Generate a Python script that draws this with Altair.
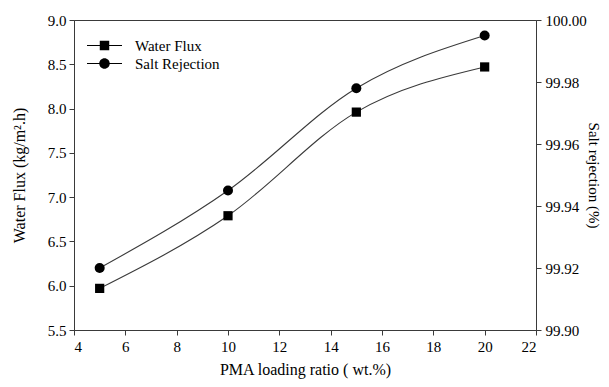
import altair as alt
import pandas as pd

# data
loading = [5, 10, 15, 20]
water_flux = [5.97, 6.79, 7.96, 8.47]
salt_rejection = [99.920, 99.945, 99.978, 99.995]
x_ticks = [4, 6, 8, 10, 12, 14, 16, 18, 20, 22]
left_ticks = [5.5, 6.0, 6.5, 7.0, 7.5, 8.0, 8.5, 9.0]
right_ticks = [99.90, 99.92, 99.94, 99.96, 99.98, 100.00]

df_flux = pd.DataFrame({"x": loading, "y": water_flux, "series": "Water Flux"})
df_rej = pd.DataFrame({"x": loading, "y": salt_rejection, "series": "Salt Rejection"})

FONT = "Liberation Serif"
INK = "#3a3a3a"

# legend symbols: a thin bar (the line) plus a marker, same winding direction
SQ_PATH = "M-1,-0.035H1V0.035H-1Z M-0.27,-0.27H0.27V0.27H-0.27Z"
CI_PATH = ("M-1,-0.035H1V0.035H-1Z "
           "M-0.3,0A0.3,0.3 0 1,1 0.3,0A0.3,0.3 0 1,1 -0.3,0Z")

x_enc = alt.X("x:Q", scale=alt.Scale(domain=[4, 22], nice=False),
              axis=alt.Axis(values=x_ticks, title="PMA loading ratio ( wt.%)",
                            format="d", titlePadding=7, labelPadding=4))

flux_y = alt.Y("y:Q", scale=alt.Scale(domain=[5.5, 9.0], nice=False, zero=False),
               axis=alt.Axis(values=left_ticks, format=".1f", orient="left",
                             title="Water Flux (kg/m².h)", titlePadding=20))
rej_y = alt.Y("y:Q", scale=alt.Scale(domain=[99.90, 100.00], nice=False, zero=False),
              axis=alt.Axis(values=right_ticks, format=".2f", orient="right",
                            title="Salt rejection (%)", titlePadding=2, labelPadding=4,
                            titleBaseline="alphabetic", titleFontSize=15))

flux_line = alt.Chart(df_flux).mark_line(
    interpolate="monotone", color=INK, strokeWidth=1.1
).encode(x=x_enc, y=flux_y)
flux_pts = alt.Chart(df_flux).mark_point(
    shape="square", filled=True, size=85, opacity=1
).encode(
    x=x_enc, y=flux_y,
    color=alt.Color("series:N",
                    scale=alt.Scale(domain=["Water Flux"], range=["black"]),
                    legend=alt.Legend(title=None, orient="none", legendX=13, legendY=8,
                                      symbolType=SQ_PATH, symbolSize=1225,
                                      labelOffset=13, padding=0)),
)

rej_line = alt.Chart(df_rej).mark_line(
    interpolate="monotone", color=INK, strokeWidth=1.1
).encode(x=x_enc, y=rej_y)
rej_pts = alt.Chart(df_rej).mark_point(
    shape="circle", filled=True, size=100, opacity=1
).encode(
    x=x_enc, y=rej_y,
    fill=alt.Fill("series:N",
                  scale=alt.Scale(domain=["Salt Rejection"], range=["black"]),
                  legend=alt.Legend(title=None, orient="none", legendX=13, legendY=26,
                                    symbolType=CI_PATH, symbolSize=1225,
                                    labelOffset=13, padding=0)),
)

left = alt.layer(flux_line, flux_pts)
right = alt.layer(rej_line, rej_pts)

chart = alt.layer(left, right).resolve_scale(
    y="independent", color="independent", fill="independent"
).resolve_legend(color="independent", fill="independent").properties(
    width=462, height=310,
    autosize=alt.AutoSizeParams(type="none"),
    padding={"left": 66, "top": 12, "right": 65, "bottom": 49},
).configure_view(
    stroke=INK, strokeWidth=1
).configure_axis(
    labelFont=FONT, titleFont=FONT, labelFontSize=15, titleFontSize=16,
    labelColor="black", titleColor="black", titleFontWeight="normal",
    domainColor=INK, tickColor=INK, tickSize=5, grid=False, labelPadding=3,
).configure_legend(
    labelFont=FONT, labelFontSize=15, labelColor="black",
    symbolStrokeWidth=0,
)

chart.save("out.html", embed_options={"renderer": "svg", "actions": False})
